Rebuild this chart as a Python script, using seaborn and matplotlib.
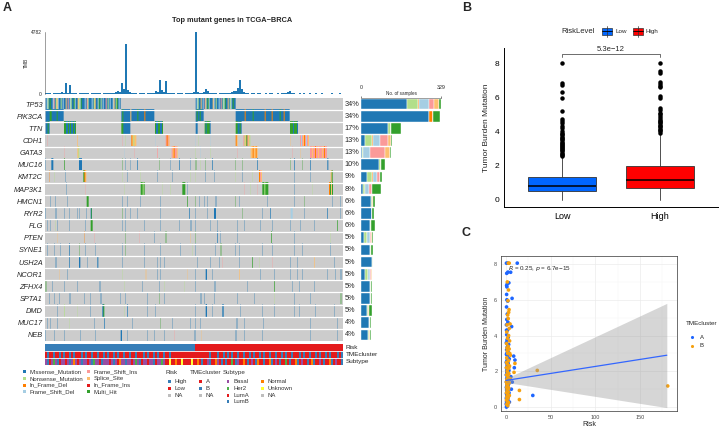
import numpy as np
import pandas as pd
import matplotlib
matplotlib.use('Agg')
import matplotlib.pyplot as plt
import matplotlib.transforms as mtransforms
from matplotlib.colors import ListedColormap, to_rgb
from matplotlib.patches import Rectangle
import seaborn as sns

sns.set_theme(style='white')
plt.rcParams['font.family'] = ['Liberation Sans', 'DejaVu Sans']

# ---------------- panel A data ----------------
genes = ['TP53', 'PIK3CA', 'TTN', 'CDH1', 'GATA3', 'MUC16', 'KMT2C', 'MAP3K1', 'HMCN1', 'RYR2',
         'FLG', 'PTEN', 'SYNE1', 'USH2A', 'NCOR1', 'ZFHX4', 'SPTA1', 'DMD', 'MUC17', 'NEB']
gene_pct = ['34%', '34%', '17%', '13%', '13%', '10%', '9%', '8%', '6%', '6%',
            '6%', '5%', '5%', '5%', '5%', '5%', '5%', '5%', '4%', '4%']

var_types = ['Missense_Mutation', 'Nonsense_Mutation', 'In_Frame_Del', 'Frame_Shift_Del',
             'Frame_Shift_Ins', 'Splice_Site', 'In_Frame_Ins', 'Multi_Hit']
var_codes = ['M', 'N', 'd', 'D', 'I', 'S', 'i', 'H']
var_colors = ['#1F78B4', '#B2DF8A', '#FF7F00', '#A6CEE3', '#FB9A99', '#FDBF6F', '#E31A1C', '#33A02C']

# samples per gene, split by variant type (order of var_codes)
gene_counts = [
    [191, 42, 7, 41, 19, 22, 0, 7],
    [281, 0, 14, 0, 0, 0, 0, 31],
    [113, 10, 0, 0, 0, 0, 0, 42],
    [15, 30, 4, 30, 31, 12, 0, 5],
    [5, 5, 0, 27, 61, 20, 0, 4],
    [76, 5, 0, 0, 0, 0, 0, 16],
    [25, 22, 3, 16, 11, 3, 0, 7],
    [10, 5, 0, 19, 12, 0, 0, 37],
    [40, 5, 3, 0, 0, 0, 0, 10],
    [44, 3, 0, 0, 0, 0, 0, 8],
    [38, 3, 0, 0, 0, 0, 0, 16],
    [14, 11, 0, 11, 7, 3, 0, 5],
    [35, 7, 0, 0, 0, 0, 0, 7],
    [44, 4, 0, 0, 0, 0, 0, 3],
    [18, 11, 0, 10, 4, 4, 0, 0],
    [35, 5, 0, 0, 3, 0, 0, 4],
    [35, 5, 0, 0, 0, 0, 0, 5],
    [25, 5, 3, 0, 0, 0, 0, 11],
    [34, 4, 0, 0, 0, 0, 0, 5],
    [30, 4, 3, 0, 0, 0, 0, 5],
]
bar_max = 329

# oncoplot tracks: (first column, variant codes, columns per code), 894 columns
track_TP53 = [(2, 'MDNMHMMDIMNSDMM' 'NMDMMSMIMDNMMHD' 'MMSNDHMMMDMINMM' 'MDMNSMMDHMNMDMM' 'IMNMDMMDSMNHMDM', 3),
              (452, 'MDNMMSMDMI' 'NMHDMMMSDM' 'NMMDMIMNDH' 'MMSMNDMHMM', 3)]
track_PIK3CA = [(2, 'MMMMHHMMMMMHMMMMMM', 3),
                (229, 'MHMMMMMMMS' 'MMMMMMHMMM' 'MMMdMMMMMM' 'MMM', 3),
                (452, 'MHMMHMMM', 3),
                (572, 'MMMMMMMMMd' 'MMMMMMMHMM' 'MMMMMMMMMd' 'MMMMMMdMMM' 'MMMMHMMMdM' 'MMMM', 3)]
track_TTN = [(2, 'MMHM', 3), (57, 'HHMMHMHMMHMH', 3), (229, 'HHMMMMMMM', 3), (330, 'HMMHHMMH', 3),
             (452, 'MM', 3), (479, 'HMHHHM', 3), (572, 'HHMMHM', 3), (735, 'HHHMHHHM', 3)]
track_CDH1 = [(7, 'I', 1), (97, 'S', 2), (232, 'I', 1), (240, 'N', 1), (259, 'dSNSS', 3), (332, 'D', 1),
              (362, 'IdIS', 3), (452, 'D', 1), (459, 'N', 1), (495, 'D', 1), (572, 'dS', 3),
              (595, 'INSHISN', 3), (735, 'S', 1), (765, 'IDISdIDIS', 3)]
track_GATA3 = [(57, 'I', 1), (97, 'SN', 3), (237, 'D', 1), (267, 'I', 1), (337, 'I', 2), (380, 'ISdIIS', 3),
               (452, 'N', 1), (467, 'D', 1), (497, 'N', 1), (577, 'I', 1), (617, 'SSdSSdS', 3),
               (742, 'I', 1), (767, 'S', 1), (795, 'IISIIdIISIIISIdII', 3)]
track_MUC16 = [(2, 'M', 1), (19, 'MM', 3), (57, 'H', 2), (102, 'MMM', 3), (232, 'H', 1), (242, 'M', 1),
               (257, 'M', 1), (277, 'M', 2), (342, 'H', 1), (377, 'M', 1), (402, 'M', 2), (437, 'M', 1),
               (452, 'H', 2), (467, 'N', 1), (482, 'H', 1), (502, 'M', 2), (572, 'H', 1), (592, 'H', 1),
               (637, 'M', 2), (735, 'H', 1), (747, 'M', 2), (772, 'H', 1), (795, 'M', 2), (847, 'M', 3)]
track_KMT2C = [(14, 'd', 1), (27, 'N', 1), (62, 'M', 1), (115, 'HdS', 3), (232, 'N', 1), (247, 'M', 1),
               (287, 'N', 1), (337, 'M', 1), (382, 'M', 1), (437, 'N', 1), (452, 'N', 1), (482, 'M', 1),
               (507, 'M', 1), (572, 'N', 1), (592, 'M', 1), (622, 'N', 1), (642, 'dIS', 3), (747, 'M', 1),
               (797, 'M', 1), (857, 'SH', 3)]
track_MAP3K1 = [(65, 'M', 1), (122, 'I', 1), (237, 'N', 1), (287, 'HHNH', 3), (352, 'N', 1), (377, 'N', 1),
                (412, 'HHH', 3), (427, 'M', 1), (597, 'I', 1), (617, 'N', 1), (637, 'I', 1),
                (652, 'HHNHHH', 3), (747, 'M', 1), (802, 'N', 1), (852, 'dHSH', 3)]
track_HMCN1 = [(17, 'M', 1), (32, 'M', 1), (67, 'M', 1), (125, 'HH', 3), (232, 'M', 1), (247, 'M', 1),
               (287, 'M', 1), (347, 'M', 1), (427, 'H', 2), (452, 'H', 1), (462, 'M', 1), (477, 'M', 1),
               (487, 'M', 1), (512, 'M', 2), (572, 'H', 1), (582, 'M', 1), (667, 'M', 1), (747, 'M', 1),
               (777, 'H', 1), (862, 'M', 1), (887, 'M', 1)]
track_RYR2 = [(2, 'M', 1), (32, 'M', 2), (57, 'M', 1), (72, 'M', 1), (97, 'M', 1), (102, 'M', 1),
              (125, 'M', 1), (137, 'MH', 2), (232, 'H', 1), (242, 'M', 1), (257, 'M', 1), (277, 'M', 1),
              (347, 'M', 1), (432, 'M', 2), (452, 'M', 1), (487, 'M', 1), (507, 'MM', 3), (592, 'H', 1),
              (652, 'M', 1), (675, 'M', 2), (737, 'DD', 3), (777, 'M', 1), (847, 'M', 2), (887, 'M', 1)]
track_FLG = [(7, 'M', 1), (17, 'M', 1), (32, 'N', 1), (37, 'M', 1), (72, 'M', 1), (122, 'M', 1),
             (137, 'HH', 3), (232, 'M', 1), (242, 'M', 1), (297, 'M', 1), (347, 'M', 1), (402, 'M', 1),
             (437, 'M', 2), (452, 'M', 1), (497, 'M', 1), (517, 'M', 1), (577, 'M', 1), (597, 'M', 1),
             (647, 'M', 1), (682, 'M', 1), (737, 'M', 1), (767, 'M', 1), (807, 'M', 1), (877, 'H', 2)]
track_PTEN = [(37, 'S', 1), (117, 'd', 1), (147, 'I', 1), (242, 'H', 1), (282, 'I', 1), (327, 'M', 1),
              (362, 'H', 2), (437, 'S', 1), (452, 'H', 1), (517, 'M', 2), (527, 'M', 1), (577, 'M', 1),
              (679, 'H', 2), (747, 'M', 1), (857, 'N', 1)]
track_SYNE1 = [(7, 'M', 1), (27, 'M', 1), (47, 'M', 1), (72, 'M', 2), (102, 'H', 1), (122, 'M', 1),
               (152, 'M', 1), (232, 'M', 1), (242, 'H', 1), (297, 'M', 1), (347, 'M', 1), (407, 'M', 1),
               (442, 'N', 1), (452, 'M', 1), (512, 'M', 1), (527, 'H', 2), (572, 'M', 1), (582, 'M', 1),
               (652, 'M', 1), (682, 'M', 1), (747, 'M', 1), (772, 'M', 1), (857, 'M', 1)]
track_USH2A = [(32, 'M', 2), (72, 'M', 2), (102, 'MM', 2), (127, 'M', 1), (157, 'M', 3), (232, 'M', 1),
               (297, 'M', 1), (337, 'M', 1), (347, 'M', 1), (357, 'M', 1), (457, 'M', 1), (497, 'M', 1),
               (522, 'M', 1), (532, 'I', 1), (582, 'M', 1), (622, 'H', 2), (642, 'N', 1), (682, 'I', 1),
               (737, 'M', 1), (757, 'M', 1), (807, 'S', 2), (867, 'M', 1)]
track_NCOR1 = [(42, 'S', 1), (67, 'M', 1), (232, 'N', 1), (302, 'S', 2), (337, 'M', 1), (347, 'M', 1),
               (427, 'S', 1), (452, 'M', 1), (482, 'MM', 2), (502, 'M', 1), (582, 'S', 2), (647, 'M', 1),
               (687, 'M', 1), (737, 'M', 1), (757, 'M', 1), (772, 'M', 1), (847, 'M', 1), (872, 'M', 1),
               (887, 'M', 2)]
track_ZFHX4 = [(2, 'H', 2), (22, 'M', 1), (57, 'M', 1), (97, 'M', 1), (162, 'M', 1), (167, 'M', 1),
               (237, 'N', 1), (292, 'M', 1), (342, 'M', 1), (357, 'N', 1), (417, 'N', 1), (452, 'M', 1),
               (507, 'M', 1), (512, 'M', 1), (607, 'M', 1), (687, 'H', 2), (742, 'M', 1), (762, 'M', 1),
               (807, 'M', 1)]
track_SPTA1 = [(12, 'M', 1), (27, 'M', 1), (42, 'M', 1), (72, 'M', 1), (77, 'M', 1), (117, 'M', 1),
               (137, 'M', 1), (167, 'M', 2), (227, 'M', 1), (242, 'M', 1), (307, 'M', 1), (342, 'H', 1),
               (357, 'M', 1), (467, 'M', 2), (477, 'M', 1), (507, 'M', 1), (577, 'M', 1), (627, 'M', 1),
               (687, 'N', 1), (747, 'M', 1), (797, 'M', 1), (887, 'H', 2)]
track_DMD = [(37, 'M', 1), (57, 'N', 2), (97, 'N', 1), (137, 'M', 1), (172, 'MH', 3), (237, 'N', 1),
             (247, 'M', 2), (307, 'M', 1), (332, 'M', 1), (452, 'M', 1), (482, 'MM', 2), (502, 'M', 1),
             (532, 'MM', 2), (587, 'M', 1), (652, 'M', 1), (687, 'M', 1), (747, 'M', 1), (762, 'M', 1),
             (812, 'M', 1), (867, 'M', 1)]
track_MUC17 = [(7, 'M', 1), (17, 'M', 1), (37, 'M', 1), (72, 'N', 1), (147, 'M', 1), (177, 'M', 2),
               (262, 'M', 1), (347, 'H', 1), (382, 'M', 1), (437, 'M', 1), (452, 'M', 1), (467, 'M', 1),
               (575, 'M', 2), (597, 'M', 1), (655, 'M', 1), (797, 'M', 1), (877, 'M', 1)]
track_NEB = [(2, 'M', 1), (27, 'M', 1), (57, 'M', 1), (107, 'M', 1), (152, 'M', 1), (227, 'MM', 2),
             (247, 'M', 1), (307, 'M', 1), (327, 'M', 1), (357, 'M', 1), (387, 'I', 1), (447, 'M', 1),
             (452, 'M', 1), (469, 'S', 1), (572, 'M', 2), (597, 'M', 1), (652, 'M', 1), (797, 'M', 1),
             (877, 'M', 1)]
tracks = [track_TP53, track_PIK3CA, track_TTN, track_CDH1, track_GATA3, track_MUC16, track_KMT2C,
          track_MAP3K1, track_HMCN1, track_RYR2, track_FLG, track_PTEN, track_SYNE1, track_USH2A,
          track_NCOR1, track_ZFHX4, track_SPTA1, track_DMD, track_MUC17, track_NEB]
n_cols = 894

# tumour mutation burden, one value per 2-pixel slot (149 slots)
tmb_values = [60, 40, 80, 30, 50, 90, 40, 60, 120, 70,
              860, 90, 670, 50, 40, 70, 30, 60, 40, 50,
              80, 40, 30, 60, 50, 40, 90, 50, 30, 40,
              60, 50, 40, 70, 90, 150, 260, 180, 810, 420,
              3870, 300, 120, 60, 50, 40, 30, 60, 40, 50,
              30, 40, 60, 50, 90, 200, 150, 1100, 300, 130,
              1000, 100, 60, 40, 50, 30, 40, 60, 40, 30,
              50, 40, 60, 80, 150, 4782, 120, 60, 90, 160,
              380, 260, 90, 60, 40, 50, 30, 40, 60, 50,
              40, 60, 80, 120, 200, 260, 450, 1100, 350, 120,
              60, 40, 30, 50, 40, 30, 60, 40, 30, 20,
              40, 30, 50, 40, 30, 20, 40, 30, 50, 60,
              40, 120, 250, 80, 40, 30, 20, 40, 30, 50,
              30, 20, 40, 30, 20, 50, 30, 20, 40, 30,
              20, 30, 20, 40, 30, 20, 30, 40, 30]
tmb_max = 4782

# clinical annotation tracks (149 slots)
risk_runs = [('High', 75), ('Low', 74)]
tme_track = ''.join(['ABAABAABAB', 'AABABAAABA', 'BAABAABAAB', 'ABAABABAAB', 'AABAABAAAB',
                     'ABAABABAAB', 'AABAAAAAAA', 'AAAAAAAAAA', 'AABAAABAAB', 'ABABAABAAB',
                     'AABABAABAB', 'AABAABAABA', 'BAABAAABAB', 'AABAABABAA', 'BABAAABAB'])
subtype_track = ''.join(['bBAbhbBAbb', 'AbBbnbAbBb', 'bAbBhbbABb', 'bbAbBbAnbb', 'BbbAbhbBAb',
                         'bAbbBAbbhb', 'AAuAAnAAuA', 'AAAuAAnABA', 'AbBAAnbABA', 'BAAhABbAAn',
                         'ABAbABnAAB', 'AAnBAbABAA', 'hABAAnBAbA', 'ABAnBAAbAB', 'AAnBAbAAB'])
ann_colors = {'High': '#377EB8', 'Low': '#E41A1C', 'A': '#E41A1C', 'B': '#377EB8',
              'b': '#984EA3', 'h': '#4DAF4A', 'LA': '#E41A1C', 'LB': '#377EB8',
              'n': '#FF7F00', 'u': '#FFFF33', 'NA': '#BEBEBE'}

# ---------------- panel B data ----------------
risk_levels = ['Low', 'High']
risk_fill = ['#0066FF', '#FF0000']
box_q1 = [0.52, 0.72]
box_med = [0.80, 1.15]
box_q3 = [1.35, 2.00]
box_lo = [0.0, 0.0]
box_hi = [2.55, 3.90]
fliers_low = [2.58, 2.63, 2.71, 2.76, 2.84, 2.90, 2.97, 3.02, 3.10, 3.14, 3.22, 3.30, 3.35, 3.41,
              3.50, 3.57, 3.62, 3.70, 3.78, 3.85, 3.92, 4.05, 4.20, 4.32, 4.50, 4.63, 4.72, 5.20,
              6.00, 6.35, 6.75, 6.85, 8.05]
fliers_high = [3.95, 4.02, 4.10, 4.18, 4.25, 4.33, 4.40, 4.48, 4.55, 4.62, 4.70, 4.80, 4.90, 5.02,
               5.12, 5.25, 5.38, 6.00, 6.10, 6.62, 6.70, 6.82, 6.90, 7.45, 7.55, 8.05]
p_box = '5.3e\u221212'

# ---------------- panel C data ----------------
a_x = [0.5, 1.8, 12.6, 2.2, 0.8, 5.2, 1.5, 0.7, 3.2, 1.0, 0.7, 1.0, 1.9, 6.8, 0.6, 1.4, 0.9, 2.1,
       6.3, 0.5, 1.6, 0.8, 2.5, 1.1, 0.4, 3.0, 1.3, 0.7, 2.2, 8.6, 0.5, 1.8, 3.6, 1.0, 10.0, 0.3,
       2.4, 1.2, 9.3, 0.6, 1.9, 3.3, 0.9, 2.7, 0.4, 1.5, 2.2, 0.8, 4.2, 1.1, 0.5, 1.7, 3.0, 0.9,
       2.3, 0.4, 1.3, 6.0, 0.7, 2.0, 1.0, 3.4, 0.5, 1.6, 2.6, 30.0, 0.8, 1.2, 0.4, 2.1, 0.9, 1.5,
       0.6, 3.8, 1.1, 0.3, 1.9, 0.7, 1.4, 0.5, 2.8, 5.5, 7.0, 1.0, 2.0, 0.6, 1.3, 0.8, 2.5, 1.8]
a_y = [8.05, 8.05, 8.05, 7.55, 7.48, 7.54, 6.90, 6.80, 6.95, 6.72, 6.30, 6.00, 5.93, 6.08, 5.60,
       5.20, 4.90, 4.75, 4.50, 4.60, 4.30, 4.05, 3.90, 3.75, 3.60, 3.50, 3.35, 3.20, 3.10, 2.85,
       2.95, 2.80, 2.70, 2.60, 2.63, 2.50, 2.45, 2.35, 2.20, 2.20, 2.10, 2.05, 1.95, 1.90, 1.80,
       1.75, 1.65, 1.60, 1.55, 1.50, 1.40, 1.35, 1.30, 1.25, 1.20, 1.10, 1.05, 1.00, 0.95, 0.90,
       0.85, 0.80, 0.75, 0.70, 0.68, 0.65, 0.60, 0.55, 0.50, 0.45, 0.40, 0.35, 0.30, 0.28, 0.22,
       0.18, 0.15, 0.10, 0.05, 0.00, 0.60, 1.70, 1.40, 3.00, 3.40, 4.30, 2.90, 2.05, 1.45, 0.95]
b_x = [2.6, 3.6, 1.5, 2.8, 2.2, 3.4, 3.0, 1.9, 2.5, 4.5, 1.2, 3.6, 0.9, 2.9, 1.7, 4.0, 0.6, 2.4,
       3.5, 1.4, 2.0, 4.8, 0.8, 2.9, 10.0, 1.6, 3.9, 0.5, 2.4, 9.0, 1.3, 3.1, 0.7, 2.0, 35.0, 4.5,
       1.0, 2.7, 0.4, 3.5, 1.5, 2.2, 0.8, 181.0, 3.0, 1.2, 15.0, 2.5, 0.6, 1.8, 3.7, 1.0, 2.3,
       15.0, 0.5, 1.6, 2.9, 0.9, 2.0, 1.3, 0.7, 3.2, 4.2, 1.1, 2.6, 0.9]
b_y = [8.05, 8.05, 7.00, 6.55, 5.95, 5.45, 5.30, 5.15, 4.95, 4.65, 4.60, 4.40, 4.20, 4.00, 3.85,
       3.70, 3.55, 3.40, 3.25, 3.15, 3.00, 2.90, 2.75, 2.60, 2.44, 2.40, 2.30, 2.20, 2.15, 1.94,
       2.00, 1.85, 1.80, 1.70, 2.05, 1.60, 1.55, 1.45, 1.40, 1.35, 1.25, 1.15, 1.10, 1.18, 1.05,
       0.95, 0.93, 0.85, 0.80, 0.72, 0.65, 0.55, 0.50, 0.42, 0.40, 0.30, 0.25, 0.15, 0.08, 0.60,
       2.50, 2.20, 3.00, 3.30, 1.90, 1.30]
tme_palette = {'A': '#1E66FF', 'B': '#F5A00F'}
fit_x = [0.0, 180.0]
fit_y = [1.49, 2.90]
ci_low = [1.38, -0.03]
ci_high = [1.60, 5.80]
r_label = r'$\it{R}$ = 0.25, $\it{p}$ = 6.7e' + '\u221215'

# ---------------- layout helpers ----------------
W, H = 719, 429
fig = plt.figure(figsize=(W / 100, H / 100), dpi=100)
fig.patch.set_facecolor('white')


def px_rect(x0, y0, x1, y1):
    return [x0 / W, 1 - y1 / H, (x1 - x0) / W, (y1 - y0) / H]


# ---------------- A: TMB bars ----------------
ax_tmb = fig.add_axes(px_rect(45, 32, 343, 94))
ax_tmb.bar(np.arange(len(tmb_values)), tmb_values, width=0.55, color='#1F78B4', linewidth=0)
ax_tmb.set_xlim(-0.5, len(tmb_values) - 0.5)
ax_tmb.set_ylim(0, tmb_max)
ax_tmb.set_yticks([0, tmb_max])
ax_tmb.set_yticklabels(['0', str(tmb_max)], fontsize=3.5)
ax_tmb.set_xticks([])
ax_tmb.tick_params(axis='y', length=1.5, width=0.4, pad=1)
for s in ['top', 'right', 'bottom']:
    ax_tmb.spines[s].set_visible(False)
ax_tmb.spines['left'].set_linewidth(0.4)
ax_tmb.spines['left'].set_color('#555555')
ax_tmb.set_ylabel('TMB', fontsize=3.5, labelpad=1)

# ---------------- A: oncoplot matrix ----------------
code_rgb = {c: to_rgb(col) for c, col in zip(var_codes, var_colors)}
img = np.tile(to_rgb('#CCCCCC'), (len(genes), n_cols, 1))
for r, track in enumerate(tracks):
    for start, codes, w in track:
        for k, ch in enumerate(codes):
            a = start + k * w
            img[r, a:a + w] = code_rgb[ch]
img_px = img.reshape(len(genes), n_cols // 3, 3, 3).mean(axis=2)

ax_onco = fig.add_axes(px_rect(45, 98, 343, 341))
ax_onco.imshow(img_px, aspect='auto', interpolation='nearest',
               extent=(0, n_cols // 3, len(genes) - 0.5, -0.5))
for i in range(1, len(genes)):
    ax_onco.axhline(i - 0.5, color='white', lw=0.9)
ax_onco.set_yticks(range(len(genes)))
ax_onco.set_yticklabels(genes, fontsize=5.3, fontstyle='italic')
ax_onco.set_xticks([])
ax_onco.tick_params(axis='y', length=0, pad=1.5)
for s in ax_onco.spines.values():
    s.set_visible(False)
trans = mtransforms.blended_transform_factory(ax_onco.transAxes, ax_onco.transData)
for i, p in enumerate(gene_pct):
    ax_onco.text(1.005, i, p, transform=trans, fontsize=5.3, va='center', ha='left')

# ---------------- A: right bars ----------------
ax_bar = fig.add_axes(px_rect(361, 98, 441, 341))
left = np.zeros(len(genes))
counts = np.array(gene_counts)
for j, col in enumerate(var_colors):
    ax_bar.barh(np.arange(len(genes)), counts[:, j], left=left, height=0.88, color=col,
                edgecolor='white', linewidth=0.3)
    left += counts[:, j]
ax_bar.set_ylim(len(genes) - 0.5, -0.5)
ax_bar.set_xlim(0, bar_max)
ax_bar.xaxis.tick_top()
ax_bar.set_xticks([0, bar_max])
ax_bar.set_xticklabels(['0', str(bar_max)], fontsize=3.8)
ax_bar.set_yticks([])
ax_bar.tick_params(axis='x', length=1.5, width=0.4, pad=4.5, direction='out')
for s in ['bottom', 'left', 'right']:
    ax_bar.spines[s].set_visible(False)
ax_bar.spines['top'].set_linewidth(0.4)
ax_bar.spines['top'].set_color('#555555')

# ---------------- A: annotation tracks ----------------
risk_track = [lab for lab, n in risk_runs for _ in range(n)]
sub_map = {'A': 'LA', 'B': 'LB'}
ann_rows = [risk_track, list(tme_track), [sub_map.get(c, c) for c in subtype_track]]
ann_keys = list(ann_colors.keys())
ann_df = pd.DataFrame([[ann_keys.index(v) for v in row] for row in ann_rows],
                      index=['Risk', 'TMEcluster', 'Subtype'])
ax_ann = fig.add_axes(px_rect(45, 344, 343, 365))
sns.heatmap(ann_df, ax=ax_ann, cmap=ListedColormap(list(ann_colors.values())),
            vmin=-0.5, vmax=len(ann_keys) - 0.5, cbar=False, xticklabels=False, yticklabels=False)
for i in (1, 2):
    ax_ann.axhline(i, color='white', lw=0.6)
for i, lab in enumerate(ann_df.index):
    ax_ann.text(1.01, 1 - (i + 0.5) / 3, lab, transform=ax_ann.transAxes, fontsize=4.6,
                va='center', ha='left')

# ---------------- B: boxplot ----------------
ax_b = fig.add_axes(px_rect(504, 48, 718, 207))
stats = [dict(med=box_med[i], q1=box_q1[i], q3=box_q3[i], whislo=box_lo[i], whishi=box_hi[i],
              fliers=fl, label=risk_levels[i]) for i, fl in enumerate([fliers_low, fliers_high])]
bp = ax_b.bxp(stats, positions=[0, 1], widths=0.7, patch_artist=True, showcaps=False,
              boxprops=dict(edgecolor='#333333', linewidth=0.6),
              medianprops=dict(color='black', linewidth=1.1),
              whiskerprops=dict(color='#333333', linewidth=0.6),
              flierprops=dict(marker='o', markerfacecolor='black', markeredgecolor='black',
                              markersize=2.2))
for patch, col in zip(bp['boxes'], risk_fill):
    patch.set_facecolor(col)
ax_b.set_xlim(-0.592, 1.592)
ax_b.set_ylim(-0.41, 8.9)
ax_b.set_yticks([0, 2, 4, 6, 8])
ax_b.set_yticklabels(['0', '2', '4', '6', '8'], fontsize=6)
ax_b.set_xticks([0, 1])
ax_b.set_xticklabels(risk_levels, fontsize=6.5)
ax_b.tick_params(length=2, width=0.6, pad=1.5, colors='black')
ax_b.set_ylabel('Tumor Burden Mutation', fontsize=6, labelpad=3)
for s in ['top', 'right']:
    ax_b.spines[s].set_visible(False)
for s in ['left', 'bottom']:
    ax_b.spines[s].set_linewidth(0.7)
    ax_b.spines[s].set_color('black')
ax_b.plot([0, 0, 1, 1], [8.35, 8.53, 8.53, 8.35], color='#555555', lw=0.6)
ax_b.text(0.5, 8.62, p_box, ha='center', va='bottom', fontsize=5.5)

# ---------------- C: scatter ----------------
df_c = pd.DataFrame({'Risk': a_x + b_x, 'TMB': a_y + b_y,
                     'TMEcluster': ['A'] * len(a_x) + ['B'] * len(b_x)})
ax_c = fig.add_axes(px_rect(501, 256, 677, 411))
sns.scatterplot(data=df_c, x='Risk', y='TMB', hue='TMEcluster', palette=tme_palette, s=7,
                linewidth=0, legend=False, ax=ax_c, zorder=3)
ax_c.fill_between(fit_x, ci_low, ci_high, color='#999999', alpha=0.4, linewidth=0, zorder=4)
ax_c.plot(fit_x, fit_y, color='#3366FF', lw=0.9, zorder=5)
ax_c.set_xlim(-5.6, 191.4)
ax_c.set_ylim(-0.22, 8.45)
ax_c.set_xticks([0, 50, 100, 150])
ax_c.set_yticks([0, 2, 4, 6, 8])
ax_c.set_xticks([25, 75, 125, 175], minor=True)
ax_c.set_yticks([1, 3, 5, 7], minor=True)
ax_c.grid(True, which='major', color='#EBEBEB', lw=0.5)
ax_c.grid(True, which='minor', color='#F3F3F3', lw=0.3)
ax_c.set_axisbelow(True)
ax_c.tick_params(which='major', labelsize=4, length=1.5, width=0.4, pad=1.2, colors='#4D4D4D',
                 labelcolor='#4D4D4D')
ax_c.tick_params(which='minor', length=0)
for s in ax_c.spines.values():
    s.set_color('#333333')
    s.set_linewidth(0.5)
ax_c.set_xlabel('Risk', fontsize=5, labelpad=1)
ax_c.set_ylabel('Tumor Burden Mutation', fontsize=5, labelpad=3)
ax_c.text(1.9, 7.76, r_label, fontsize=4.5, ha='left', va='center', zorder=6)

# ---------------- overlay: letters, title, legends ----------------
ov = fig.add_axes([0, 0, 1, 1])
ov.set_xlim(0, W)
ov.set_ylim(H, 0)
ov.axis('off')
ov.patch.set_alpha(0)

for lab, (x, y) in zip('ABC', [(3, 8), (462, 8), (462, 233)]):
    ov.text(x, y, lab, fontsize=9, fontweight='bold', va='center', ha='left')
ov.text(232, 20, 'Top mutant genes in TCGA\u2212BRCA', fontsize=5.3, fontweight='bold',
        ha='center', va='center')
ov.text(401, 93.6, 'No. of samples', fontsize=3.3, ha='center', va='center')

# mutation legend
for k, (name, col) in enumerate(zip(var_types, var_colors)):
    cx = 24.5 if k < 4 else 88.5
    cy = 371.7 + (k % 4) * 6.7
    ov.add_patch(Rectangle((cx - 1.4, cy - 1.4), 2.8, 2.8, color=col, lw=0))
    ov.text(cx + 5.5, cy, name, fontsize=4.3, va='center', ha='left', color='#333333')

# annotation legends
ann_legend = [
    ('Risk', 165, [(169.5, ['High', 'Low', 'NA'], ['#377EB8', '#E41A1C', '#BEBEBE'])]),
    ('TMEcluster', 190, [(200.8, ['A', 'B', 'NA'], ['#E41A1C', '#377EB8', '#BEBEBE'])]),
    ('Subtype', 222.5, [(228, ['Basal', 'Her2', 'LumA', 'LumB'],
                         ['#984EA3', '#4DAF4A', '#E41A1C', '#377EB8']),
                        (262.5, ['Normal', 'Unknown', 'NA'], ['#FF7F00', '#FFFF33', '#BEBEBE'])]),
]
for title, tx, cols in ann_legend:
    ov.text(tx, 372.5, title, fontsize=4.5, va='center', ha='left', color='#333333')
    for cx, names, colors in cols:
        for k, (name, col) in enumerate(zip(names, colors)):
            cy = 381.7 + k * 6.7
            ov.add_patch(Rectangle((cx - 1.4, cy - 1.4), 2.8, 2.8, color=col, lw=0))
            ov.text(cx + 5, cy, name, fontsize=4.3, va='center', ha='left', color='#333333')

# panel B legend
ov.text(561.5, 31.2, 'RiskLevel', fontsize=5.5, va='center', ha='left')
for x0, col, name in [(602, risk_fill[0], 'Low'), (633, risk_fill[1], 'High')]:
    ov.plot([x0 + 5, x0 + 5], [26, 36.5], color='#333333', lw=0.5)
    ov.add_patch(Rectangle((x0, 28), 10, 6.5, facecolor=col, edgecolor='#333333', lw=0.5))
    ov.plot([x0, x0 + 10], [31.3, 31.3], color='black', lw=0.6)
    ov.text(x0 + 13, 31.2, name, fontsize=4.5, va='center', ha='left')

# panel C legend
ov.text(686, 323.5, 'TMEcluster', fontsize=4.5, va='center', ha='left')
for k, (name, col) in enumerate(tme_palette.items()):
    cy = 337.3 + k * 8.5
    ov.scatter([692.3], [cy], s=5, color=col, linewidth=0)
    ov.text(699.5, cy, name, fontsize=4.3, va='center', ha='left')

fig.savefig('out.png', dpi=100, facecolor='white')
